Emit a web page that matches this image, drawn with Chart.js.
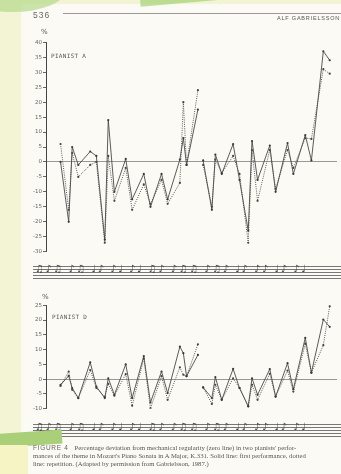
<!DOCTYPE html>
<html>
<head>
<meta charset="utf-8">
<script src="https://cdn.jsdelivr.net/npm/chart.js@4.4.1/dist/chart.umd.min.js"></script>
<style>
    html, body { margin: 0; padding: 0; }
    body {
        width: 341px; height: 474px; overflow: hidden; position: relative;
        background: #f2f4d4; font-family: "Liberation Serif", serif;
    }
    .abs { position: absolute; }
    .gray { opacity: 0.99; will-change: opacity; }
    #page { left: 21px; top: 4px; width: 330px; height: 470px; background: #fbfaf4; }
    #swoosh1 { left: -40px; top: -30px; width: 105px; height: 42px; border-radius: 50%; background: #b5d98a; opacity: 0.7; }
    #swoosh2 { left: 140px; top: -8px; width: 110px; height: 10px; background: #a7d277; transform: rotate(-5deg); opacity: 0.7; }
    #band { left: -10px; top: 432px; width: 72px; height: 14px; background: #a9cf78; transform: rotate(-4deg); }
    #yellow { left: 0; top: 445px; width: 28px; height: 30px; background: #f6f3c4; }
    #pagenum { left: 33px; top: 10px; font: 8.5px "Liberation Sans", sans-serif; letter-spacing: 1px; color: #666; }
    #rule { left: 63px; top: 13px; width: 278px; height: 1px; background: #999; }
    #runhead { left: 277px; top: 15px; font: 5.5px "Liberation Sans", sans-serif; letter-spacing: 0.8px; color: #555; white-space: nowrap; }
    .pct { font: 7px "DejaVu Sans", sans-serif; color: #555; }
    .who { font: 6px "DejaVu Sans Mono", monospace; color: #555; letter-spacing: 0.3px; white-space: nowrap; }
    .staff {
        left: 33px; width: 308px; height: 13px;
        background: repeating-linear-gradient(to bottom, #777 0, #777 0.7px, transparent 0.7px, transparent 3px);
    }
    .notes { font: 10px "DejaVu Sans", sans-serif; font-variant-emoji: text; color: #444; white-space: nowrap; letter-spacing: 1.5px; }
    #caption { left: 33px; top: 444px; width: 308px; overflow: hidden; font-size: 6.7px; line-height: 8.2px; color: #555; white-space: nowrap; }
    #caption b { font: 6.5px "Liberation Sans", sans-serif; letter-spacing: 0.7px; font-weight: normal; color: #666; margin-right: 6px; }
    canvas { position: absolute; }
</style>
</head>
<body>
<div id="page" class="abs"></div>
<div id="swoosh1" class="abs"></div>
<div id="swoosh2" class="abs"></div>

<div id="pagenum" class="abs gray">536</div>
<div id="rule" class="abs"></div>
<div id="runhead" class="abs gray">ALF GABRIELSSON</div>

<div class="abs pct gray" style="left:41px; top:28px;">%</div>
<div class="abs who gray" style="left:51px; top:52px;">PIANIST A</div>
<canvas id="chartA" width="321" height="218" style="left:20px; top:38px;"></canvas>
<div class="abs staff" style="top:266px;"></div>
<div class="abs notes gray" style="left:35px; top:263px;">&#x266B;&#xFE0E;&#x266A;&#xFE0E;&#x266B;&#xFE0E; &#x266A;&#xFE0E;&#x266B;&#xFE0E; &#x2669;&#xFE0E;&#x266A;&#xFE0E; &#x266A;&#xFE0E;&#x2669;&#xFE0E; &#x266A;&#xFE0E;&#x2669;&#xFE0E; &#x266B;&#xFE0E;&#x266A;&#xFE0E; &#x266A;&#xFE0E;&#x266B;&#xFE0E;&#x266B;&#xFE0E; &#x266A;&#xFE0E;&#x266B;&#xFE0E;&#x266A;&#xFE0E; &#x2669;&#xFE0E;&#x266A;&#xFE0E; &#x266A;&#xFE0E;&#x266A;&#xFE0E; &#x2669;&#xFE0E;&#x266A;&#xFE0E; &#x266A;&#xFE0E;&#x2669;&#xFE0E;</div>

<div class="abs pct gray" style="left:42px; top:293px;">%</div>
<div class="abs who gray" style="left:52px; top:313px;">PIANIST D</div>
<canvas id="chartB" width="321" height="112" style="left:20px; top:301px;"></canvas>
<div class="abs staff" style="top:424px;"></div>
<div class="abs notes gray" style="left:35px; top:421px;">&#x266B;&#xFE0E;&#x266A;&#xFE0E;&#x266B;&#xFE0E; &#x266A;&#xFE0E;&#x266B;&#xFE0E; &#x2669;&#xFE0E;&#x266A;&#xFE0E; &#x266A;&#xFE0E;&#x2669;&#xFE0E; &#x266A;&#xFE0E;&#x2669;&#xFE0E; &#x266B;&#xFE0E;&#x266A;&#xFE0E; &#x266A;&#xFE0E;&#x266B;&#xFE0E;&#x266B;&#xFE0E; &#x266A;&#xFE0E;&#x266B;&#xFE0E;&#x266A;&#xFE0E; &#x2669;&#xFE0E;&#x266A;&#xFE0E; &#x266A;&#xFE0E;&#x266A;&#xFE0E; &#x2669;&#xFE0E;&#x266A;&#xFE0E; &#x266A;&#xFE0E;&#x2669;&#xFE0E;</div>

<div id="band" class="abs"></div>
<div id="yellow" class="abs"></div>

<div id="caption" class="abs gray">
    <div><b>FIGURE 4</b>Percentage deviation from mechanical regularity (zero line) in two pianists' perfor-</div>
    <div>mances of the theme in Mozart's Piano Sonata in A Major, K.331. Solid line: first performance, dotted</div>
    <div>line: repetition. (Adapted by permission from Gabrielsson, 1987.)</div>
</div>

<script>
"use strict";

// Position of each note in the theme (0 = start, 100 = end), null = break between phrases
var notePos = [5, 7.8, 9, 11.1, 15.2, 17.3, 20.2, 21.4, 23.5, 27.4, 29.6, 33.6, 35.9, 39.7, 41.8, 46, 47.2, 48.3, 52.2,
    53,
    54, 57, 58.2, 60.4, 64.3, 66.5, 69.5, 70.8, 72.7, 76.9, 78.9, 83, 85, 89.1, 91.2, 95.3, 97.5];

// Pianist A, percentage deviation
var pianistAFirst = [0, -20, 5, -1, 3.5, 2, -26, 14, -10, 1, -12.5, -4, -15, -4, -12.5, 0.8, 8, -1, 17.5,
    null,
    0.5, -16, 2.5, -4, 6, -6, -23, 7, -6, 5.5, -10, 6.3, -4, 9, 0.5, 37, 34];
var pianistARepeat = [6, -16, 3, -5, -1, 0, -27, 2, -13, -2, -16, -7.5, -14, -6, -14, -7, 20, -1, 24,
    null,
    -1, -15, 0.8, -3.7, 2, -4, -27, 4, -13, 4, -9, 4, -2, 8, 7.7, 31, 29.5];

// Pianist D, percentage deviation
var pianistDFirst = [-1.9, 1.1, -3, -6.4, 5.7, -2.5, -6.4, 0.3, -5.3, 5, -6.4, 7.8, -7.9, 2.6, -4.7, 11, 8.8, 1, 8.2,
    null,
    -2.8, -6.4, 0.7, -7, 3.5, -3, -9.2, 0.3, -5.3, 3.4, -5.9, 5.4, -3.4, 14, 2.2, 20.2, 17.7];
var pianistDRepeat = [-2.3, 2.6, -3.6, -6.4, 3.1, -3, -6, -1.6, -5.6, 1.7, -9, 7, -9.9, 1, -7, 4, 1.5, 1, 11.8,
    null,
    -2.8, -8.4, -1.9, -7, 0.3, -3, -9.2, -1.9, -7, 1.8, -5.9, 2.9, -4.2, 12, 2.2, 11.5, 24.7];

// Axis ranges (percent)
var rangeA = [-30, 40];
var rangeD = [-10, 25];
var tickStep = 5;

function toPoints(values) {
    return notePos.map(function (x, i) {
        return { x: x, y: values[i] };
    });
}

function makeChart(canvasId, first, repeat, range) {
    var ctx = document.getElementById(canvasId).getContext('2d');
    return new Chart(ctx, {
        type: 'line',
        data: {
            datasets: [{
                label: 'First performance',
                data: toPoints(first),
                borderColor: '#4a4a4a',
                borderWidth: 0.9,
                pointRadius: 1.1,
                pointBackgroundColor: '#3a3a3a',
                pointBorderWidth: 0,
                tension: 0,
                spanGaps: false
            }, {
                label: 'Repetition',
                data: toPoints(repeat),
                borderColor: '#5a5a5a',
                borderWidth: 1,
                borderDash: [1, 1.2],
                pointRadius: 1.1,
                pointBackgroundColor: '#444',
                pointBorderWidth: 0,
                tension: 0,
                spanGaps: false
            }]
        },
        options: {
            responsive: false,
            animation: false,
            layout: { padding: 0 },
            plugins: { legend: { display: false }, tooltip: { enabled: false } },
            scales: {
                x: { type: 'linear', min: 0, max: 100, display: false },
                y: {
                    min: range[0],
                    max: range[1],
                    afterFit: function (scale) { scale.width = 26; },
                    ticks: {
                        stepSize: tickStep,
                        padding: 1,
                        color: '#666',
                        font: { family: 'DejaVu Sans', size: 5.5 }
                    },
                    border: { color: '#444', width: 1 },
                    grid: {
                        // only the zero line is drawn across the plot
                        color: function (c) {
                            return c.tick && c.tick.value === 0 ? '#8c8c8c' : 'rgba(0,0,0,0)';
                        },
                        lineWidth: 0.9,
                        tickColor: '#555',
                        tickLength: 3
                    }
                }
            }
        }
    });
}

var chartA = makeChart('chartA', pianistAFirst, pianistARepeat, rangeA);
var chartD = makeChart('chartB', pianistDFirst, pianistDRepeat, rangeD);
</script>
</body>
</html>
